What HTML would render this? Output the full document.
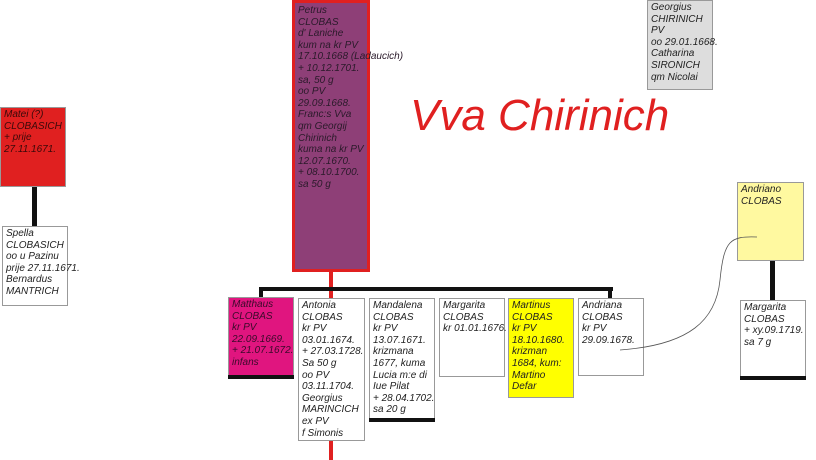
<!DOCTYPE html>
<html><head><style>
body{margin:0;width:816px;height:460px;position:relative;background:#fff;overflow:hidden;font-family:"Liberation Sans",sans-serif;}
.b{position:absolute;box-sizing:border-box;border:1px solid #999;background:#fff;font-style:italic;font-size:10px;line-height:11.6px;color:#222;padding:1px 0 0 3px;white-space:nowrap;}
.l{position:absolute;background:#111;}
</style></head><body>
<div class="l" style="left:329px;top:270px;width:4px;height:190px;background:#e02020"></div>
<div class="l" style="left:259px;top:287px;width:354px;height:4px"></div>
<div class="l" style="left:259px;top:287px;width:4px;height:12px"></div>
<div class="l" style="left:608px;top:287px;width:4px;height:12px"></div>
<div class="l" style="left:32px;top:186px;width:5px;height:41px"></div>
<div class="l" style="left:770px;top:260px;width:5px;height:41px"></div>

<div class="b" style="left:292px;top:0;width:78px;height:272px;background:#8e3f77;border:3px solid #e02020;padding:2px 0 0 3px;color:#2a1a2a">Petrus<br>CLOBAS<br>d' Laniche<br>kum na kr PV<br>17.10.1668 (Ladaucich)<br>+ 10.12.1701.<br>sa, 50 g<br>oo PV<br>29.09.1668.<br>Franc:s Vva<br>qm Georgij<br>Chirinich<br>kuma na kr PV<br>12.07.1670.<br>+ 08.10.1700.<br>sa 50 g</div>

<div class="b" style="left:647px;top:0;width:66px;height:90px;background:#ddd">Georgius<br>CHIRINICH<br>PV<br>oo 29.01.1668.<br>Catharina<br>SIRONICH<br>qm Nicolai</div>

<div style="position:absolute;left:410px;top:91px;font-size:44px;font-style:italic;color:#e02020;white-space:nowrap">Vva Chirinich</div>

<div class="b" style="left:0;top:107px;width:66px;height:80px;background:#e02020;color:#3a0a0a">Matei (?)<br>CLOBASICH<br>+ prije<br>27.11.1671.</div>
<div class="b" style="left:2px;top:226px;width:66px;height:80px">Spella<br>CLOBASICH<br>oo u Pazinu<br>prije 27.11.1671.<br>Bernardus<br>MANTRICH</div>

<div class="b" style="left:737px;top:182px;width:67px;height:79px;background:#fff9a0">Andriano<br>CLOBAS</div>
<div class="b" style="left:740px;top:300px;width:66px;height:77px">Margarita<br>CLOBAS<br>+ xy.09.1719.<br>sa 7 g</div>
<div class="l" style="left:740px;top:376px;width:66px;height:4px"></div>

<div class="b" style="left:228px;top:297px;width:66px;height:79px;background:#e0157f;color:#3a0a2a">Matthaus<br>CLOBAS<br>kr PV<br>22.09.1669.<br>+ 21.07.1672.<br>infans</div>
<div class="l" style="left:228px;top:375px;width:66px;height:4px"></div>
<div class="b" style="left:298px;top:298px;width:67px;height:143px">Antonia<br>CLOBAS<br>kr PV<br>03.01.1674.<br>+ 27.03.1728.<br>Sa 50 g<br>oo PV<br>03.11.1704.<br>Georgius<br>MARINCICH<br>ex PV<br>f Simonis</div>
<div class="b" style="left:369px;top:298px;width:66px;height:121px">Mandalena<br>CLOBAS<br>kr PV<br>13.07.1671.<br>krizmana<br>1677, kuma<br>Lucia m:e di<br>Iue Pilat<br>+ 28.04.1702.<br>sa 20 g</div>
<div class="l" style="left:369px;top:418px;width:66px;height:4px"></div>
<div class="b" style="left:439px;top:298px;width:66px;height:79px">Margarita<br>CLOBAS<br>kr 01.01.1676.</div>
<div class="b" style="left:508px;top:298px;width:66px;height:100px;background:#ffff00">Martinus<br>CLOBAS<br>kr PV<br>18.10.1680.<br>krizman<br>1684, kum:<br>Martino<br>Defar</div>
<div class="b" style="left:578px;top:298px;width:66px;height:78px">Andriana<br>CLOBAS<br>kr PV<br>29.09.1678.</div>

<svg style="position:absolute;left:0;top:0" width="816" height="460"><path d="M620 350 C690 345 716 320 720 280 C724 240 730 236 757 237" fill="none" stroke="#555" stroke-width="0.8"/></svg>
</body></html>
